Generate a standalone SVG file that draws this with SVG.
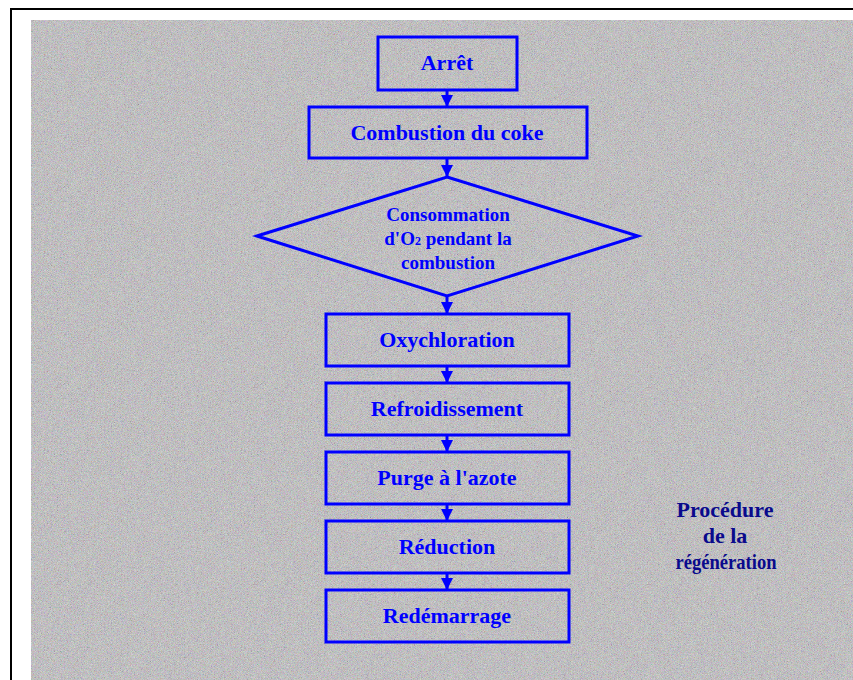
<svg xmlns="http://www.w3.org/2000/svg" width="853" height="680" viewBox="0 0 853 680">
  <style>
    .box { fill: none; stroke: #0000ff; stroke-width: 3; }
    .lbl { font-family: "Liberation Serif", "Times New Roman", serif; font-weight: bold; fill: #0000ff; text-anchor: middle; font-size: 22px; }
    .dlbl { font-size: 19px; }
    .title { font-family: "Liberation Serif", "Times New Roman", serif; font-weight: bold; fill: #0a0a8c; text-anchor: middle; font-size: 22px; }
    .conn { stroke: #0000ff; stroke-width: 3; fill: none; }
  </style>
  <defs>
    <marker id="ah" viewBox="0 0 10 10" refX="10" refY="5" markerWidth="4" markerHeight="4" markerUnits="strokeWidth" orient="auto">
      <path d="M0,0 L10,5 L0,10 Z" fill="#0000ff"/>
    </marker>
    <filter id="noise" x="0" y="0" width="100%" height="100%">
      <feTurbulence type="fractalNoise" baseFrequency="1.3" numOctaves="1" seed="7" result="t"/>
      <feColorMatrix type="matrix" values="1.4 0.2 0.2 0 -0.3  0.2 1.4 0.2 0 -0.3  0.2 0.2 1.4 0 -0.3  0 0 0 0 1"/>
    </filter>
  </defs>
  <rect x="0" y="0" width="853" height="680" fill="#ffffff"/>
  <path d="M11,680 L11,9 L853,9" fill="none" stroke="#000000" stroke-width="2"/>
  <g id="background">
    <rect x="31" y="20" width="822" height="660" fill="#b6b4b7"/>
    <rect x="31" y="20" width="822" height="660" filter="url(#noise)" opacity="0.45"/>
  </g>

  <g id="connectors">
    <line class="conn" x1="447" y1="90" x2="447" y2="107" marker-end="url(#ah)"/>
    <line class="conn" x1="447" y1="158" x2="447" y2="177" marker-end="url(#ah)"/>
    <line class="conn" x1="447" y1="296" x2="447" y2="314" marker-end="url(#ah)"/>
    <line class="conn" x1="447" y1="366" x2="447" y2="383" marker-end="url(#ah)"/>
    <line class="conn" x1="447" y1="435" x2="447" y2="452" marker-end="url(#ah)"/>
    <line class="conn" x1="447" y1="504" x2="447" y2="521" marker-end="url(#ah)"/>
    <line class="conn" x1="447" y1="573" x2="447" y2="590" marker-end="url(#ah)"/>
  </g>

  <g id="arret">
    <rect class="box" x="378" y="37" width="139" height="53"/>
    <text class="lbl" x="447" y="70">Arrêt</text>
  </g>
  <g id="combustion">
    <rect class="box" x="309" y="107" width="278" height="51"/>
    <text class="lbl" x="447" y="140">Combustion du coke</text>
  </g>
  <g id="consommation">
    <polygon class="box" points="447,177 638,236 447,296 257,236"/>
    <text class="lbl dlbl" x="448" y="221">Consommation</text>
    <text class="lbl dlbl" x="448" y="245">d'O<tspan font-size="12">2</tspan> pendant la</text>
    <text class="lbl dlbl" x="448" y="269">combustion</text>
  </g>
  <g id="oxychloration">
    <rect class="box" x="326" y="314" width="243" height="52"/>
    <text class="lbl" x="447" y="347">Oxychloration</text>
  </g>
  <g id="refroidissement">
    <rect class="box" x="326" y="383" width="243" height="52"/>
    <text class="lbl" x="447" y="416">Refroidissement</text>
  </g>
  <g id="purge">
    <rect class="box" x="326" y="452" width="243" height="52"/>
    <text class="lbl" x="447" y="485">Purge à l'azote</text>
  </g>
  <g id="reduction">
    <rect class="box" x="326" y="521" width="243" height="52"/>
    <text class="lbl" x="447" y="554">Réduction</text>
  </g>
  <g id="redemarrage">
    <rect class="box" x="326" y="590" width="243" height="52"/>
    <text class="lbl" x="447" y="623">Redémarrage</text>
  </g>

  <g id="title">
    <text class="title" x="725" y="517">Procédure</text>
    <text class="title" x="725" y="543">de la</text>
    <text class="title" x="726" y="569" textLength="101" lengthAdjust="spacingAndGlyphs">régénération</text>
  </g>
</svg>
